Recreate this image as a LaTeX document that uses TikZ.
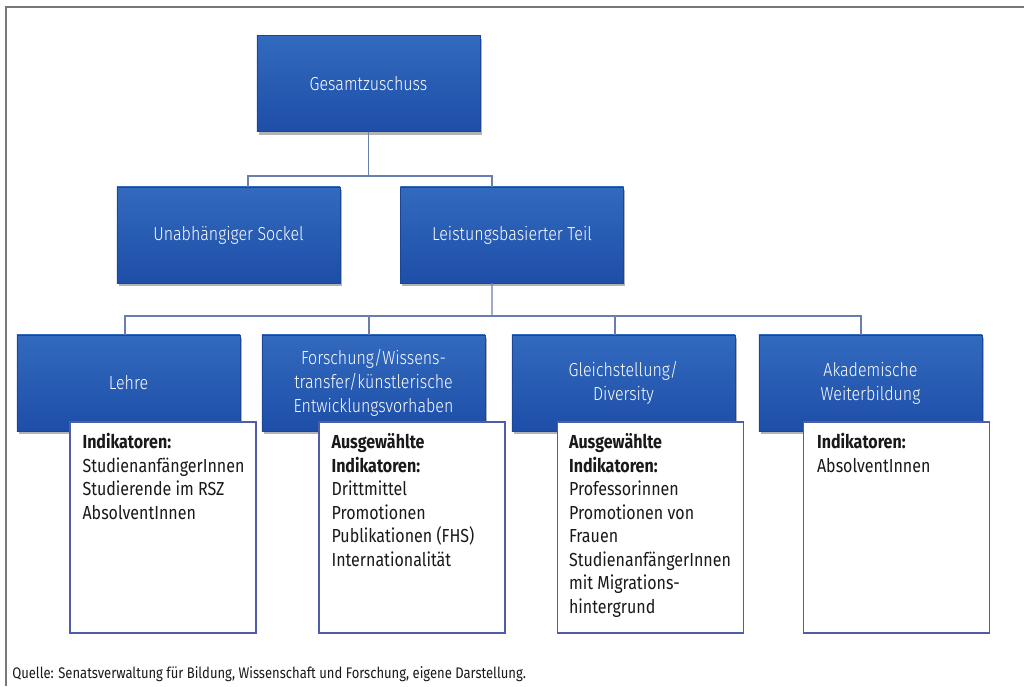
\documentclass[tikz,border=0pt]{standalone}
\usepackage{fontspec}
\setmainfont{Fira Sans}[FakeStretch=0.85]
\newfontfamily\boxfont{Fira Sans Light}[FakeStretch=0.85]
\usetikzlibrary{shadows}
\definecolor{boxtop}{RGB}{50,106,190}
\definecolor{boxbot}{RGB}{30,78,168}
\definecolor{linkc}{RGB}{105,125,175}
\definecolor{listedge}{RGB}{80,92,170}
\definecolor{framec}{RGB}{120,120,120}

\begin{document}
\begin{tikzpicture}[x=0.025cm,y=-0.025cm,
  bluebox/.style={rectangle, inner sep=2pt, minimum width=5.575cm, minimum height=2.4cm,
    top color=boxtop, bottom color=boxbot, draw=boxbot!90!black, line width=0.3pt,
    text=white, align=center, font=\boxfont\fontsize{13.4}{17}\selectfont,
    drop shadow={shadow xshift=0.04cm, shadow yshift=-0.08cm, opacity=0.4, fill=black!75}},
  listbox/.style={rectangle, minimum width=4.65cm, minimum height=5.275cm,
    fill=white, draw=listedge, line width=1pt},
  listtext/.style={anchor=north west, inner sep=0pt, align=left,
    font=\fontsize{13.4}{16.7}\selectfont, text=black!90},
  link/.style={draw=linkc, line width=0.9pt}]
\useasboundingbox (0,0) rectangle (1024,686);

% frame
\draw[framec, line width=1.4pt] (6,686) -- (6,7) -- (1024,7);

% top level
\node[bluebox] (top) at (368.5,83.5) {Gesamtzuschuss};

% second level
\node[bluebox] (sockel) at (228.5,235) {Unabhängiger Sockel};
\node[bluebox] (leist) at (512,235) {Leistungsbasierter Teil};

% third level
\node[bluebox] (lehre) at (128.5,383) {Lehre};
\node[bluebox] (forsch) at (373.5,383) {Forschung/Wissens-\\transfer/künstlerische\\Entwicklungsvorhaben};
\node[bluebox] (gleich) at (623.5,383) {Gleichstellung/\\Diversity};
\node[bluebox] (akad) at (870.5,383) {Akademische\\Weiterbildung};

% connectors
\coordinate (busA) at (368.5,176);
\coordinate (busB) at (492,316);
\coordinate (s1) at ([xshift=0.4875cm]sockel.north);
\coordinate (s2) at ([xshift=-0.5cm]leist.north);
\coordinate (s3) at ([xshift=-0.5cm]leist.south);
\coordinate (d1) at ([xshift=-0.0875cm]lehre.north);
\coordinate (d2) at ([xshift=-0.1125cm]forsch.north);
\coordinate (d3) at ([xshift=-0.2125cm]gleich.north);
\coordinate (d4) at ([xshift=-0.2375cm]akad.north);

\draw[link] (top.south) -- (busA);
\draw[link] (s1) |- (busA) -| (s2);
\draw[link] (s3) -- (busB);
\draw[link] (d1) |- (busB);
\draw[link] (d2) |- (busB);
\draw[link] (d3) |- (busB);
\draw[link] (d4) |- (busB);

% indicator lists
\node[listbox] (lehreI) at (163,527.5) {};
\node[listbox] (forschI) at (412,527.5) {};
\node[listbox] (gleichI) at (650.5,527.5) {};
\node[listbox] (akadI) at (896.5,527.5) {};

\node[listtext] (lehreT) at ([xshift=0.325cm,yshift=-0.3cm]lehreI.north west)
  {\textbf{Indikatoren:}\\StudienanfängerInnen\\Studierende im RSZ\\AbsolventInnen};
\node[listtext] (forschT) at ([xshift=0.325cm,yshift=-0.3cm]forschI.north west)
  {\textbf{Ausgewählte}\\\textbf{Indikatoren:}\\Drittmittel\\Promotionen\\Publikationen (FHS)\\Internationalität};
\node[listtext] (gleichT) at ([xshift=0.3cm,yshift=-0.3cm]gleichI.north west)
  {\textbf{Ausgewählte}\\\textbf{Indikatoren:}\\Professorinnen\\Promotionen von\\Frauen\\StudienanfängerInnen\\mit Migrations-\\hintergrund};
\node[listtext] (akadT) at ([xshift=0.35cm,yshift=-0.3cm]akadI.north west)
  {\textbf{Indikatoren:}\\AbsolventInnen};

% source line
\node[anchor=base west, inner sep=0pt, font=\fontsize{10.9}{13}\selectfont, text=black!90]
  (src) at (12,678) {Quelle: Senatsverwaltung für Bildung, Wissenschaft und Forschung, eigene Darstellung.};
\end{tikzpicture}
\end{document}
